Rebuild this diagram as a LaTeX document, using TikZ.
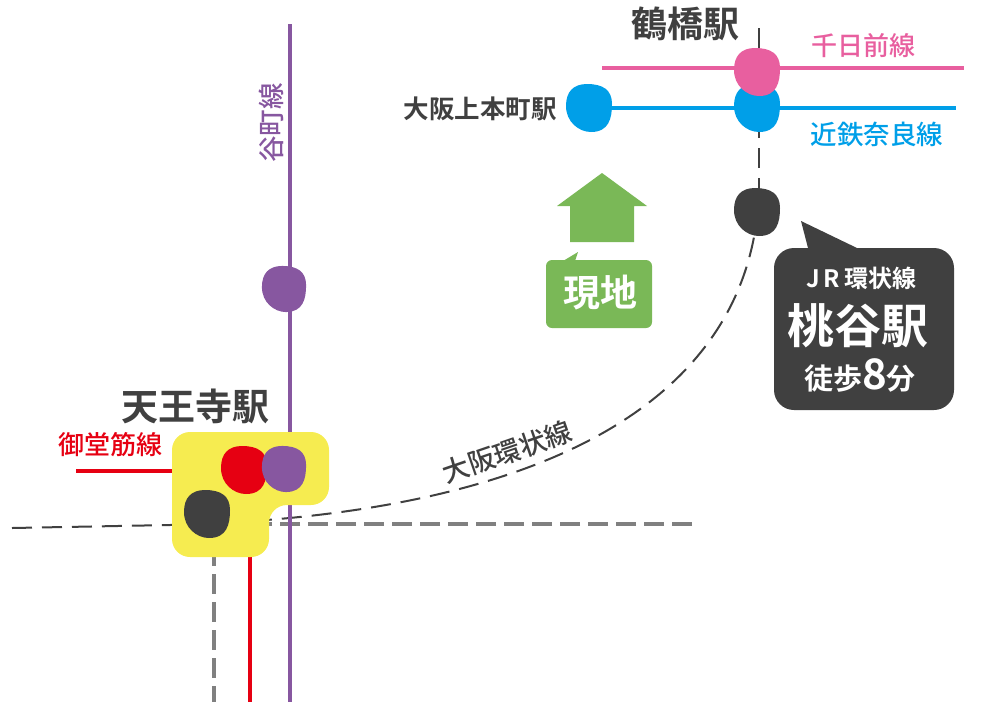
\documentclass[tikz,border=0pt]{standalone}
\usepackage{fontspec}
\setmainfont{Noto Sans CJK JP Medium}[BoldFont={Noto Sans CJK JP Bold}]
\definecolor{cdark}{HTML}{404040}
\definecolor{cpink}{HTML}{E85F9F}
\definecolor{cblue}{HTML}{009FE8}
\definecolor{cpurple}{HTML}{8757A0}
\definecolor{cred}{HTML}{E60012}
\definecolor{cyellow}{HTML}{F6EC50}
\definecolor{cgreen}{HTML}{7AB857}
\definecolor{cgray}{HTML}{808080}
\newcommand{\fs}[1]{\fontsize{#1}{#1}\selectfont}
\tikzset{
  x=1pt,y=-1pt,
  line/.style={line width=4pt},
  thin dash/.style={line width=2pt,cdark,dash pattern=on 20pt off 10pt},
  gray dash/.style={line width=4pt,cgray,dash pattern=on 20pt off 8pt},
  lab/.style={inner sep=0pt,font=\bfseries},
  pics/blob/.style={code={
    \fill[#1] (-2,-24) .. controls (14,-24) and (23,-18) .. (23,-4)
      .. controls (23,10) and (20,24) .. (2,24)
      .. controls (-10,24) and (-23,14) .. (-23,-2)
      .. controls (-23,-16) and (-16,-24) .. (-2,-24) -- cycle;
  }}
}
\begin{document}
\begin{tikzpicture}
\useasboundingbox (0,0) rectangle (1000,702);
% coordinates
\coordinate (pT) at (290,24); \coordinate (pB) at (290,702);
\coordinate (pkL) at (602,68); \coordinate (pkR) at (964,68);
\coordinate (blL) at (589,108); \coordinate (blR) at (956,108);
\coordinate (kT) at (759,28); \coordinate (kB) at (759,190);
\coordinate (cA) at (754,237); \coordinate (cB) at (170,525); \coordinate (cC) at (12,528);
\coordinate (gR) at (692,524); \coordinate (gL) at (268,524);
\coordinate (gT) at (214,546); \coordinate (gD) at (214,702);
\coordinate (rT) at (250,557); \coordinate (rD) at (250,702);
\coordinate (rL) at (76,471); \coordinate (rR) at (172,471);
% lines
\draw[thin dash] (kT) -- (kB);
\draw[thin dash] (cC) -- (cB) .. controls (540,516) and (722,405) .. (cA);
\draw[gray dash] (gR) -- (gL);
\draw[gray dash] (gT) -- (gD);
\draw[line,cpurple] (pT) -- (pB);
\draw[line,cred] (rT) -- (rD);
\draw[line,cred] (rL) -- (rR);
\draw[line,cpink] (pkL) -- (pkR);
\draw[line,cblue] (blL) -- (blR);
% yellow
\fill[cyellow,rounded corners=18pt] (172,432) -- (329,432) -- (329,505) -- (269,505) -- (269,557) -- (172,557) -- cycle;
% blobs
\pic at (589,108) {blob=cblue};
\pic at (757,108) {blob=cblue};
\pic at (757,72) {blob=cpink};
\pic at (757,212) {blob=cdark};
\pic[scale=.96] at (284,289) {blob=cpurple};
\pic at (244,470) {blob=cred};
\pic[scale=.96] at (284,469) {blob=cpurple};
\pic at (207,514) {blob=cdark};
% house arrow
\fill[cgreen] (602,173) -- (647,206) -- (634,206) -- (634,242) -- (570,242) -- (570,206) -- (557,206) -- cycle;
% green callout
\fill[cgreen,rounded corners=6pt] (546,260) -- (652,260) -- (652,328) -- (546,328) -- cycle;
\fill[cgreen] (578,252) -- (575,261) -- (563,261) -- cycle;
% dark callout
\fill[cdark,rounded corners=20pt] (774,248) -- (954,248) -- (954,410) -- (774,410) -- cycle;
\fill[cdark] (801,221) -- (857,248) -- (857,268) -- (808,268) -- (808,248) -- cycle;
% labels
\node[lab,text=cdark] (n1) at (685,24) {\fs{36}鶴橋駅};
\node[lab,text=cpink,font=\normalfont] (n2) at (863,46) {\fs{26}千日前線};
\node[lab,text=cblue,font=\normalfont] (n3) at (877,134) {\fs{26.5}近鉄奈良線};
\node[lab,text=cdark] (n4) at (480,109) {\fs{25.5}大阪上本町駅};
\node[lab,text=cpurple,font=\normalfont,rotate=90] (n5) at (271,123) {\fs{26.5}谷町線};
\node[lab,text=cdark] (n6) at (195,406) {\fs{37}天王寺駅};
\node[lab,text=cred,font=\normalfont] (n7) at (110,445) {\fs{26}御堂筋線};
\node[lab,text=cdark,font=\normalfont,rotate=19] (n8) at (507,452) {\fs{27}大阪環状線};
\node[lab,text=white] (n9) at (600,293) {\fs{37}現地};
\node[lab,text=white] (n10) at (861,278) {\fs{24}J\,R\,環状線};
\node[lab,text=white] (n11) at (858,326) {\fs{47}桃谷駅};
\node[lab,text=white] (n12) at (860,375) {\fs{29}徒歩\fs{42}8\fs{29}分};
\end{tikzpicture}
\end{document}
